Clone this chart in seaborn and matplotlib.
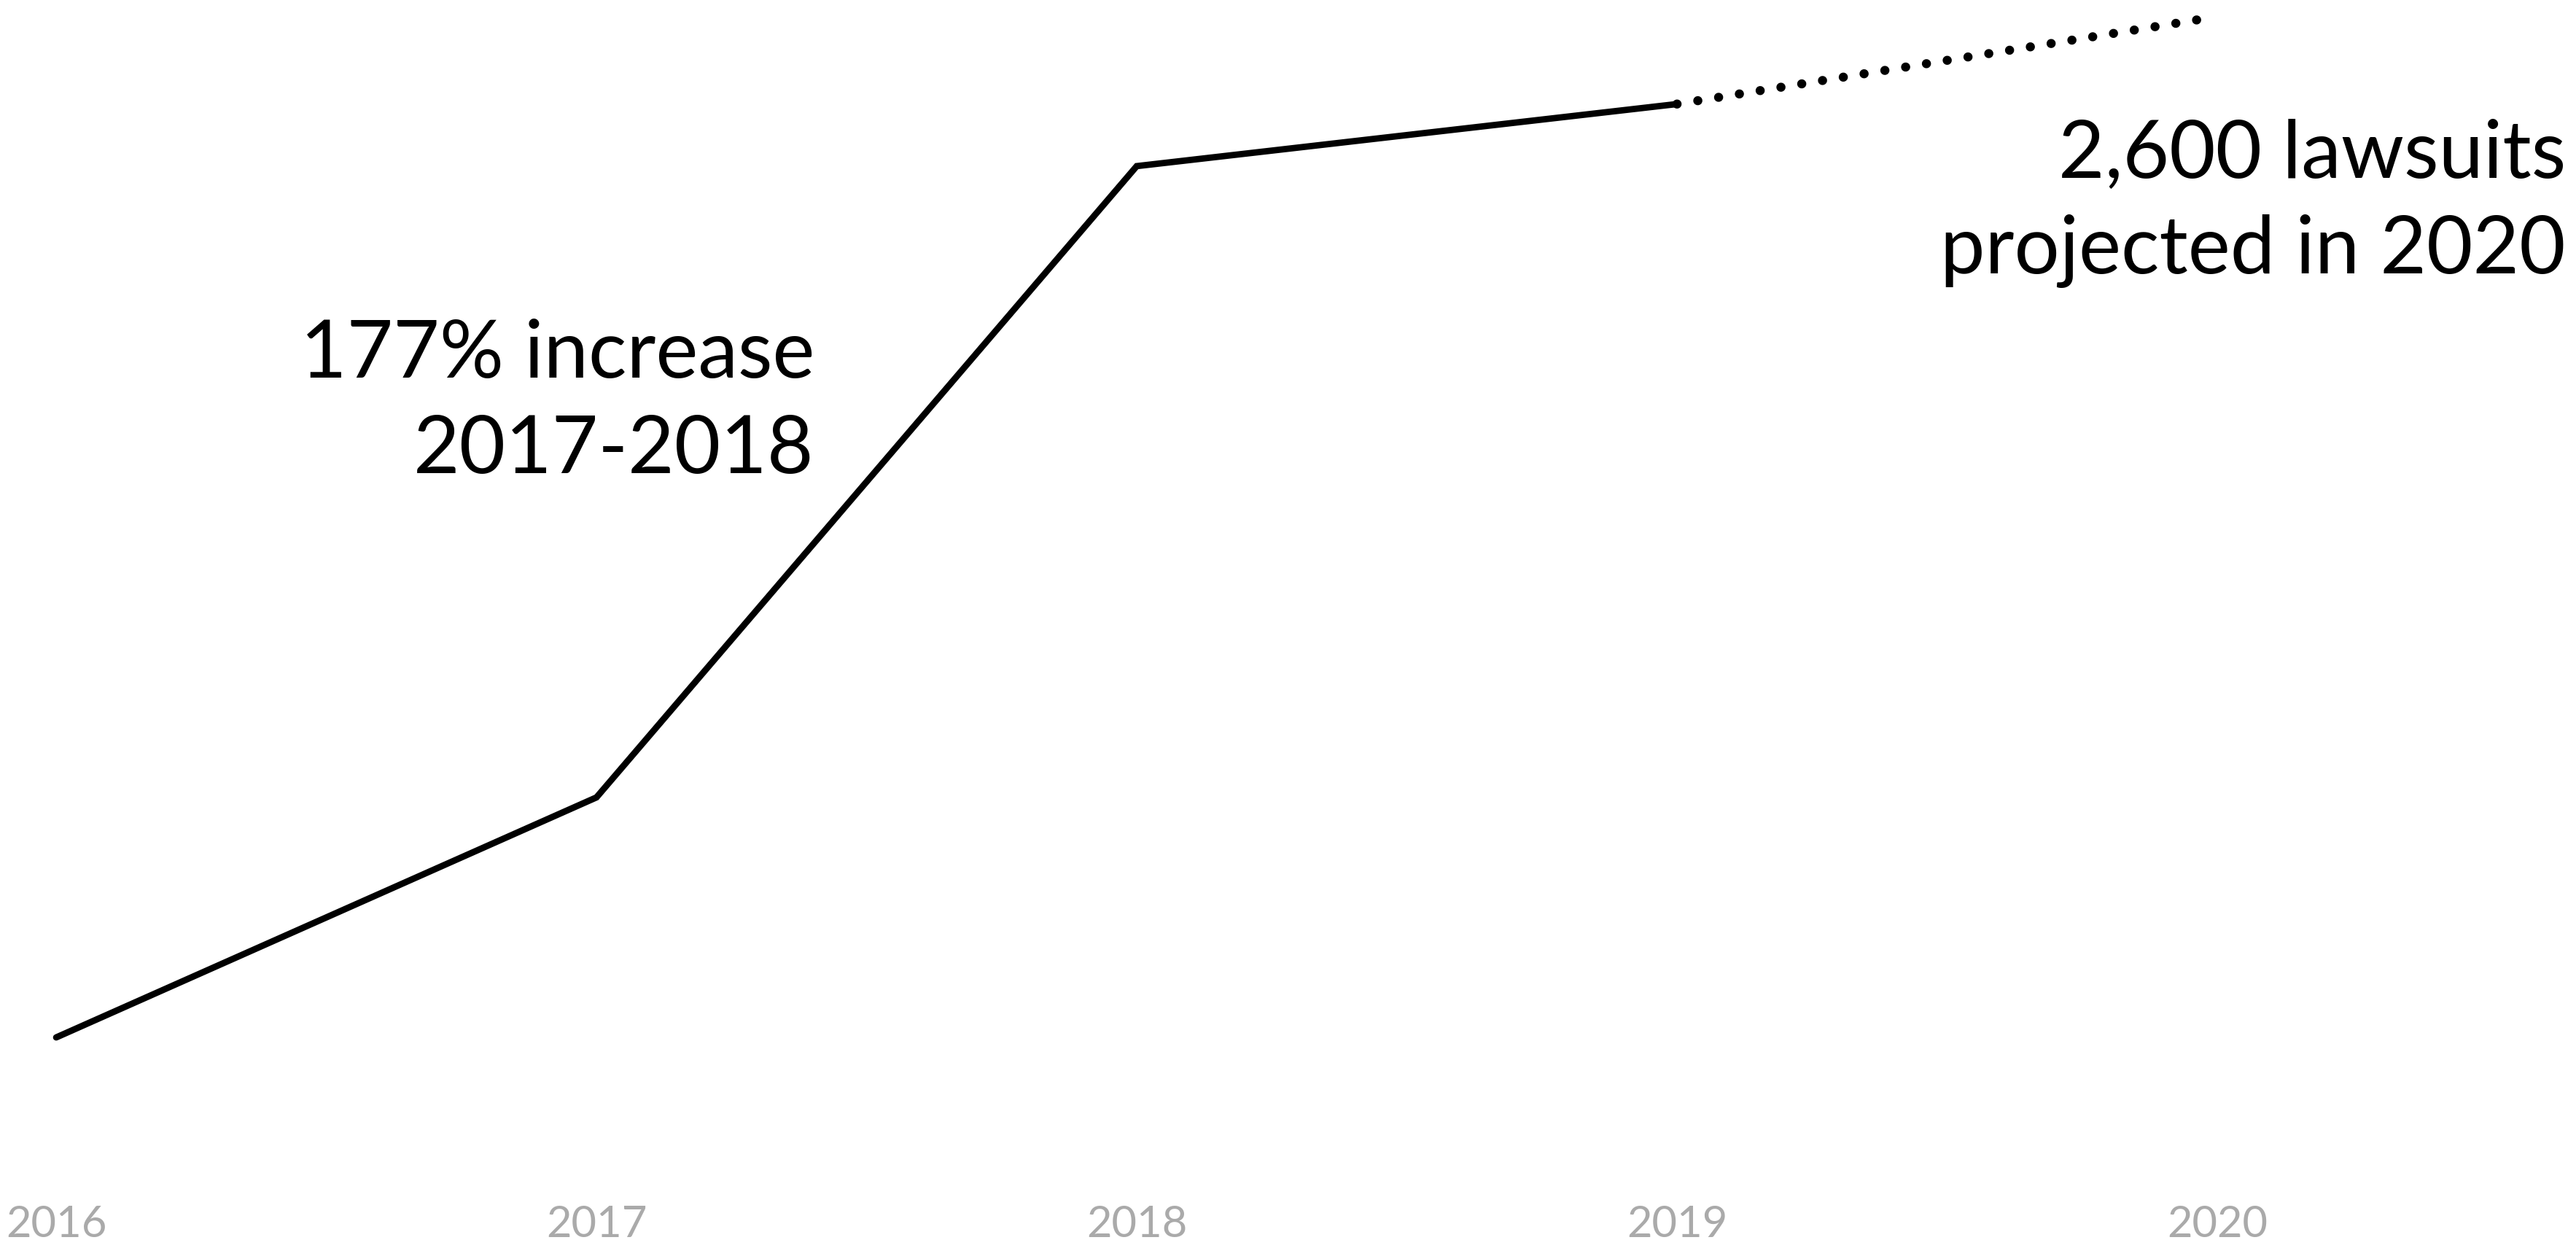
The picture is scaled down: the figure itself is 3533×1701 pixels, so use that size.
import matplotlib
matplotlib.use('Agg')
import matplotlib.pyplot as plt
import seaborn as sns
import pandas as pd

# ADA website lawsuits per year (2020 = projection)
years = [2016, 2017, 2018, 2019, 2020]
lawsuits = [265, 814, 2258, 2400, 2600]
actual_years = years[:4]
actual_vals = lawsuits[:4]
proj_years = years[3:]
proj_vals = lawsuits[3:]

tick_labels = ['2016', '2017', '2018', '2019', '2020']
note_left = ['177% increase', '2017-2018']
note_right = ['2,600 lawsuits', 'projected in 2020']

sns.set_theme(style='white')
plt.rcParams['font.family'] = ['Lato', 'DejaVu Sans']

W, H, DPI = 3533, 1701, 100
fig = plt.figure(figsize=(W / DPI, H / DPI), dpi=DPI)
ax_bottom_px = 1645
ax = fig.add_axes([0, (H - ax_bottom_px) / H, 1, ax_bottom_px / H])

actual_df = pd.DataFrame({'year': actual_years, 'lawsuits': actual_vals})
proj_df = pd.DataFrame({'year': proj_years, 'lawsuits': proj_vals})

sns.lineplot(data=actual_df, x='year', y='lawsuits', ax=ax, color='black',
             linewidth=6.3)
solid = ax.lines[-1]
solid.set_solid_capstyle('round')
solid.set_solid_joinstyle('miter')

# projected part: round dots
sns.lineplot(data=proj_df, x='year', y='lawsuits', ax=ax, color='black',
             linewidth=9.0)
dots = ax.lines[-1]
dots.set_linestyle((0, (0.01, 2.3)))
dots.set_dash_capstyle('round')

ax.set_xlim(2015.896, 2020.664)
ax.set_ylim(-105, 2638)

ax.set_xticks(years)
ax.set_xticklabels(tick_labels, fontsize=43, color='#aaaaaa')
ax.tick_params(axis='x', length=0, pad=6)
ax.set_yticks([])
ax.set_xlabel('')
ax.set_ylabel('')
for s in ax.spines.values():
    s.set_visible(False)

# annotations (figure pixel coordinates)
def fig_text(x_px, y_base_px, s):
    fig.text(x_px / W, 1 - y_base_px / H, s, ha='right', va='baseline',
             fontsize=79, color='black')

fig_text(1117, 518, note_left[0])
fig_text(1117, 649, note_left[1])
fig_text(3519, 244, note_right[0])
fig_text(3519, 375, note_right[1])

fig.savefig('out.png', dpi=DPI, facecolor='white')
